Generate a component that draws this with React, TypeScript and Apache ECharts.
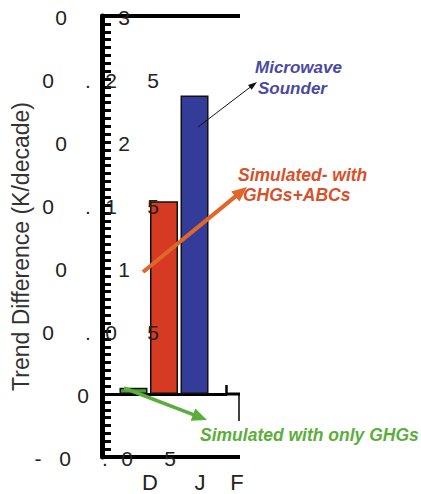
import React, { useEffect, useRef } from "react";
import * as echarts from "echarts";

// ---- data ----
const categories = ["DJF"];
const seasonLetters = ["D", "J", "F"];
const seriesNames = [
  "Simulated with only GHGs",
  "Simulated- with GHGs+ABCs",
  "Microwave Sounder",
];
const ghgOnly = [0.005];
const ghgAbc = [0.153];
const microwave = [0.237];
const yTickValues = [-0.05, 0, 0.05, 0.1, 0.15, 0.2, 0.25, 0.3];
const yTickLabels = ["-0.05", "0", "0.05", "0.1", "0.15", "0.2", "0.25", "0.3"];

// ---- layout / style (not data) ----
const W = 421;
const H = 494;
const FONT = "'Liberation Sans', Arial, Helvetica, sans-serif";
const GRID = { left: 102, top: 16, right: 195, bottom: 37 };
// char center offsets (px from axis line) for the "spread" tick labels, by label length
const charOffsets: Record<number, number[]> = {
  1: [-19],
  3: [-41, 1, 22],
  4: [-54, -14, 9, 51],
  5: [-64, -37, 3, 25, 68],
};
const letterX = [150, 200, 237];

function arrow(
  x1: number,
  y1: number,
  x2: number,
  y2: number,
  color: string,
  width: number,
  headLen: number,
  headW: number
) {
  const dx = x2 - x1;
  const dy = y2 - y1;
  const len = Math.sqrt(dx * dx + dy * dy);
  const ux = dx / len;
  const uy = dy / len;
  const bx = x2 - ux * headLen;
  const by = y2 - uy * headLen;
  const px = -uy;
  const py = ux;
  return [
    {
      type: "line",
      z: 10,
      shape: { x1, y1, x2: bx + ux * 1, y2: by + uy * 1 },
      style: { stroke: color, lineWidth: width },
    },
    {
      type: "polygon",
      z: 10,
      shape: {
        points: [
          [x2, y2],
          [bx + (px * headW) / 2, by + (py * headW) / 2],
          [bx - (px * headW) / 2, by - (py * headW) / 2],
        ],
      },
      style: { fill: color },
    },
  ];
}

export default function App() {
  const ref = useRef<HTMLDivElement>(null);

  useEffect(() => {
    if (!ref.current) return;
    document.body.style.margin = "0";
    const chart = echarts.init(ref.current, null, { renderer: "svg" });

    const option: any = {
      animation: false,
      backgroundColor: "#ffffff",
      grid: GRID,
      xAxis: [
        {
          type: "category",
          data: categories,
          position: "bottom",
          axisLine: { onZero: true, lineStyle: { color: "#000", width: 3 } },
          axisTick: { show: true, inside: true, length: 9, lineStyle: { color: "#000", width: 2.5 } },
          axisLabel: { show: false },
          splitLine: { show: false },
        },
        {
          type: "category",
          data: categories,
          position: "top",
          axisLine: { onZero: false, lineStyle: { color: "#000", width: 4 } },
          axisTick: { show: false },
          axisLabel: { show: false },
        },
      ],
      yAxis: {
        type: "value",
        min: -0.05,
        max: 0.3,
        interval: 0.05,
        name: "Trend Difference (K/decade)",
        nameLocation: "middle",
        nameRotate: 90,
        nameGap: 70,
        nameTextStyle: { fontFamily: FONT, fontSize: 23, color: "#333", padding: [0, 20, 0, 0] },
        axisLine: { show: true, lineStyle: { color: "#000", width: 5 } },
        axisTick: { show: true, inside: true, length: 9, lineStyle: { color: "#000", width: 3 } },
        minorTick: { show: true, splitNumber: 8, length: 9, lineStyle: { color: "#000", width: 3 } },
        axisLabel: { show: false },
        splitLine: { show: false },
      },
      series: [
        {
          name: seriesNames[0],
          type: "bar",
          data: ghgOnly,
          barWidth: 28,
          barGap: "9%",
          itemStyle: { color: "#4f9e3a", borderColor: "#111", borderWidth: 1.5 },
        },
        {
          name: seriesNames[1],
          type: "bar",
          data: ghgAbc,
          barWidth: 28,
          barGap: "9%",
          itemStyle: { color: "#d63a22", borderColor: "#111", borderWidth: 1.5 },
        },
        {
          name: seriesNames[2],
          type: "bar",
          data: microwave,
          barWidth: 28,
          barGap: "9%",
          itemStyle: { color: "#333d99", borderColor: "#111", borderWidth: 1.5 },
        },
      ],
    };
    chart.setOption(option);

    const left = GRID.left;
    const right = W - GRID.right;
    const top = GRID.top;
    const bottom = H - GRID.bottom;
    const zeroY = chart.convertToPixel({ yAxisIndex: 0 }, 0) as number;
    const ext = right + 14;

    const g: any[] = [];
    // frame extensions
    g.push({ type: "line", shape: { x1: left, y1: bottom, x2: ext, y2: bottom }, style: { stroke: "#000", lineWidth: 4 } });
    g.push({ type: "line", shape: { x1: right, y1: zeroY, x2: ext, y2: zeroY }, style: { stroke: "#000", lineWidth: 3 } });
    g.push({ type: "line", shape: { x1: right, y1: top, x2: ext, y2: top }, style: { stroke: "#000", lineWidth: 4 } });
    g.push({ type: "line", shape: { x1: ext - 1, y1: zeroY, x2: ext - 1, y2: zeroY + 27 }, style: { stroke: "#000", lineWidth: 1.5 } });

    // spread tick labels
    yTickValues.forEach((v, i) => {
      const y = chart.convertToPixel({ yAxisIndex: 0 }, v) as number;
      const label = yTickLabels[i];
      const offs = charOffsets[label.length];
      label.split("").forEach((ch, k) => {
        const hidden = label.length === 3 && ch === ".";
        g.push({
          type: "text",
          z: hidden ? -1 : 5,
          x: left + offs[k],
          y: y + 1,
          style: {
            text: ch,
            fill: "#222",
            fontFamily: FONT,
            fontSize: 21,
            align: "center",
            verticalAlign: "middle",
          },
        });
      });
    });

    // season letters
    seasonLetters.forEach((ch, k) => {
      g.push({
        type: "text",
        x: letterX[k],
        y: bottom + 25,
        style: { text: ch, fill: "#222", fontFamily: FONT, fontSize: 22, align: "center", verticalAlign: "middle" },
      });
    });

    // annotations
    const annoText = (text: string, x: number, y: number, color: string, size: number) => ({
      type: "text",
      z: 10,
      x,
      y,
      style: {
        text,
        fill: color,
        fontFamily: FONT,
        fontSize: size,
        fontWeight: "bold",
        fontStyle: "italic",
        align: "left",
        verticalAlign: "middle",
      },
    });
    g.push(annoText("Microwave", 255, 67, "#4a4aa0", 17));
    g.push(annoText("Sounder", 258, 88, "#4a4aa0", 17));
    g.push(annoText("Simulated- with", 238, 175, "#d9502a", 17.5));
    g.push(annoText("GHGs+ABCs", 243, 195, "#d9502a", 17.5));
    g.push(annoText("Simulated with only GHGs", 200, 435, "#5cae3c", 17.5));

    g.push(...arrow(198, 127, 257, 82, "#111", 1, 9, 6));
    g.push(...arrow(143, 272, 247, 187, "#e0662a", 4, 15, 13));
    g.push(...arrow(124, 388, 207, 420, "#5cae3c", 3.5, 15, 13));

    chart.setOption({ graphic: g });

    return () => chart.dispose();
  }, []);

  return <div ref={ref} style={{ width: W, height: H }} />;
}
